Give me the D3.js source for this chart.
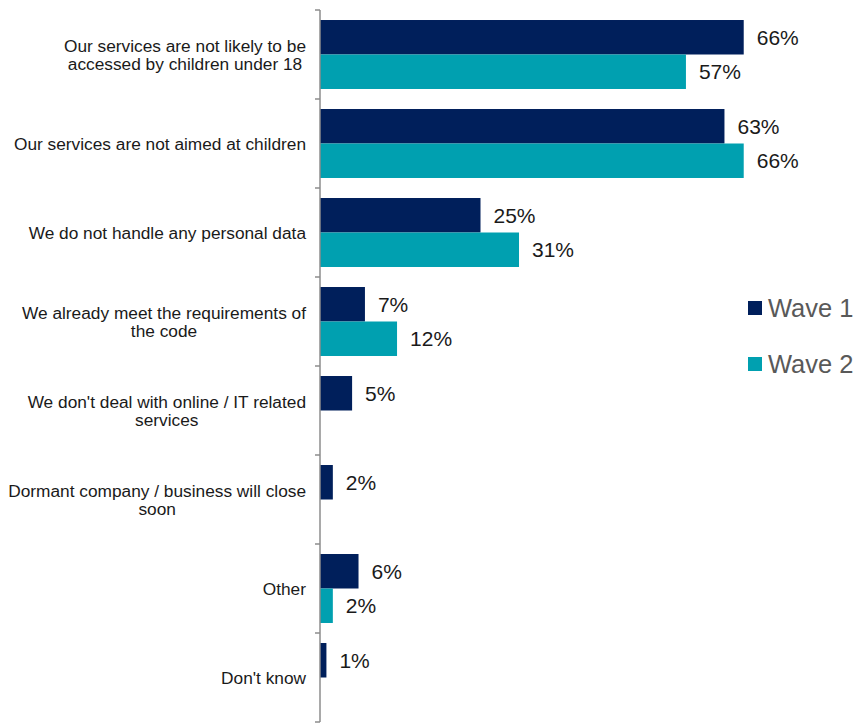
<!DOCTYPE html>
<html>
<head>
<meta charset="utf-8">
<script src="https://cdn.jsdelivr.net/npm/d3@7"></script>
<style>
  html, body { margin: 0; padding: 0; background: #ffffff; }
  svg { display: block; font-family: "Liberation Sans", Arial, sans-serif; }
</style>
</head>
<body>
<svg id="chart" width="856" height="724"></svg>
<script>
// Reasons given for the code not applying to the business
const categories = [
  ["Our services are not likely to be", "accessed by children under 18"],
  ["Our services are not aimed at children"],
  ["We do not handle any personal data"],
  ["We already meet the requirements of", "the code"],
  ["We don't deal with online / IT related", "services"],
  ["Dormant company / business will close", "soon"],
  ["Other"],
  ["Don't know"]
];
const seriesNames = ["Wave 1", "Wave 2"];
const wave1 = [66, 63, 25, 7, 5, 2, 6, 1];
const wave2 = [57, 66, 31, 12, null, null, 2, null];
const colors = ["#001F5B", "#00A0B0"];

const svg = d3.select("#chart");
const axisX = 320, plotTop = 10, plotBottom = 722;

const y = d3.scaleBand()
  .domain(d3.range(categories.length))
  .range([plotTop, plotBottom])
  .paddingInner(0.225)
  .paddingOuter(0.1125);

const band = d3.scaleBand()
  .domain([0, 1])
  .range([0, y.bandwidth()]);

const x = d3.scaleLinear().domain([0, 100]).range([axisX, axisX + 642]);

const rows = categories.map((c, i) => ({ i, label: c, values: [wave1[i], wave2[i]] }));

const groups = svg.selectAll("g.row").data(rows).join("g")
  .attr("class", "row")
  .attr("transform", d => `translate(0,${y(d.i)})`);

groups.selectAll("rect")
  .data(d => d.values.map((v, s) => ({ v, s })).filter(e => e.v != null))
  .join("rect")
  .attr("x", x(0))
  .attr("y", e => band(e.s))
  .attr("width", e => x(e.v) - x(0))
  .attr("height", band.bandwidth())
  .attr("fill", e => colors[e.s]);

groups.selectAll("text.val")
  .data(d => d.values.map((v, s) => ({ v, s })).filter(e => e.v != null))
  .join("text")
  .attr("class", "val")
  .attr("x", e => x(e.v) + 13)
  .attr("y", e => band(e.s) + band.bandwidth() / 2)
  .attr("dy", "0.35em")
  .attr("font-size", 21)
  .attr("fill", "#1a1a1a")
  .text(e => e.v + "%");

// Category axis: vertical line with ticks between categories
const boundaries = d3.range(categories.length + 1)
  .map(k => plotTop + k * (plotBottom - plotTop) / categories.length);
const axisG = svg.append("g");
axisG.append("line")
  .attr("x1", axisX).attr("x2", axisX)
  .attr("y1", plotTop).attr("y2", plotBottom)
  .attr("stroke", "#8c8c8c").attr("stroke-width", 1.5);
axisG.selectAll("line.tick").data(boundaries).join("line")
  .attr("class", "tick")
  .attr("x1", axisX - 5).attr("x2", axisX)
  .attr("y1", d => d).attr("y2", d => d)
  .attr("stroke", "#8c8c8c").attr("stroke-width", 1.5);

// Category labels: lines centred on each other, right edge against the axis
const lineH = 18;
const labelRight = 306;
groups.append("text")
  .attr("text-anchor", "middle")
  .attr("font-size", 17.3)
  .attr("fill", "#1a1a1a")
  .each(function (d) {
    const t = d3.select(this);
    const n = d.label.length;
    const cy = y.bandwidth() / 2;
    const spans = d.label.map((line, k) =>
      t.append("tspan")
        .attr("y", cy + (k - (n - 1) / 2) * lineH)
        .attr("dy", "0.35em")
        .text(line));
    const w = d3.max(spans, s => s.node().getComputedTextLength());
    spans.forEach(s => s.attr("x", labelRight - w / 2));
  });

// Legend
const legend = svg.append("g").attr("transform", "translate(748,0)");
seriesNames.forEach((name, s) => {
  const ly = 308 + s * 56;
  legend.append("rect")
    .attr("x", 0).attr("y", ly - 7)
    .attr("width", 14).attr("height", 14)
    .attr("fill", colors[s]);
  legend.append("text")
    .attr("x", 20).attr("y", ly)
    .attr("dy", "0.35em")
    .attr("font-size", 25.5)
    .attr("fill", "#595959")
    .text(name);
});
</script>
</body>
</html>
